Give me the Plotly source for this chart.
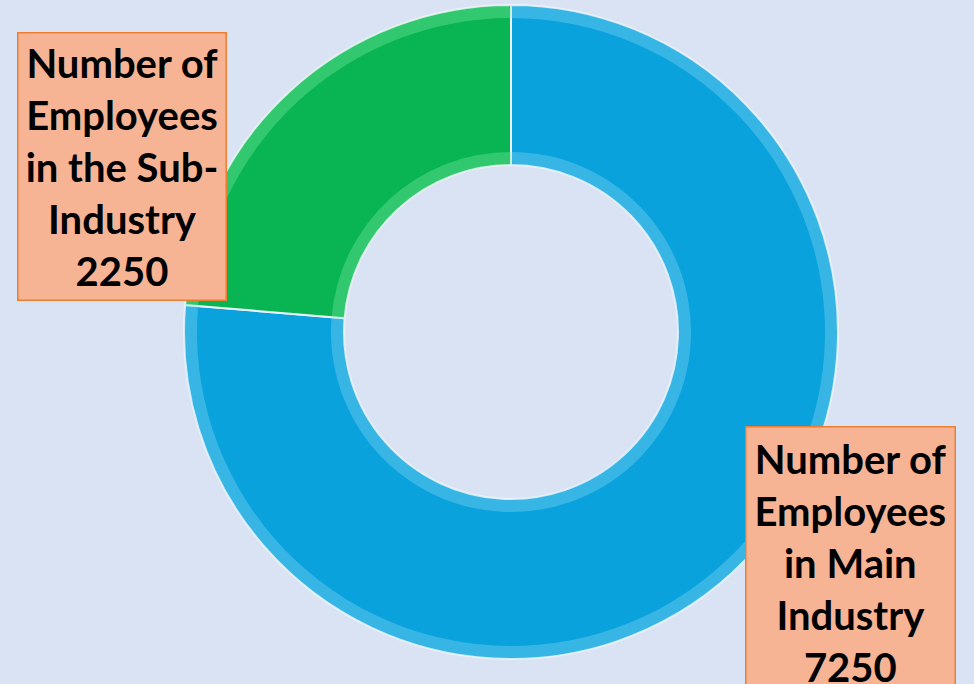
import plotly.graph_objects as go

categories = ["Number of Employees in Main Industry", "Number of Employees in the Sub-Industry"]
values = [7250, 2250]
colors = ["#0AA2DC", "#08B552"]
bevel_colors = ["rgba(140,220,248,0.35)", "rgba(130,235,170,0.35)"]
box_texts = ["Number of<br>Employees<br>in Main<br>Industry<br>7250",
             "Number of<br>Employees<br>in the Sub-<br>Industry<br>2250"]

W, H = 974, 684
cx, cy, r, r_in = 511, 332, 327, 167


def dom(rad):
    return dict(x=[(cx - rad) / W, (cx + rad) / W], y=[1 - (cy + rad) / H, 1 - (cy - rad) / H])


fig = go.Figure()
fig.add_trace(go.Pie(
    labels=categories, values=values, hole=r_in / r, sort=False,
    direction="clockwise", rotation=0,
    marker=dict(colors=colors, line=dict(color="#EEF2F8", width=2)),
    textinfo="none", hoverinfo="label+value", showlegend=False, domain=dom(r),
))
# outer bevel highlight
fig.add_trace(go.Pie(
    labels=categories, values=values, hole=(r - 13) / r, sort=False,
    direction="clockwise", rotation=0,
    marker=dict(colors=bevel_colors, line=dict(width=0)),
    textinfo="none", hoverinfo="skip", showlegend=False, domain=dom(r),
))
# inner bevel highlight
fig.add_trace(go.Pie(
    labels=categories, values=values, hole=r_in / (r_in + 13), sort=False,
    direction="clockwise", rotation=0,
    marker=dict(colors=bevel_colors, line=dict(width=0)),
    textinfo="none", hoverinfo="skip", showlegend=False, domain=dom(r_in + 13),
))

boxes = [(850, 562.5, 208, 271), (121.5, 166, 207, 266)]
for t, (bx, by, bw, bh) in zip(box_texts, boxes):
    fig.add_annotation(
        x=bx / W, y=1 - by / H, xref="paper", yref="paper",
        xanchor="center", yanchor="middle", showarrow=False,
        text=t, width=bw, height=bh, align="center", valign="middle",
        font=dict(family="Lato", size=40, color="#000000", weight="bold"),
        bgcolor="#F7B495", bordercolor="#ED7D31", borderwidth=1.5, borderpad=0,
    )

fig.update_layout(
    width=W, height=H, margin=dict(l=0, r=0, t=0, b=0),
    paper_bgcolor="#DAE3F3", plot_bgcolor="#DAE3F3",
)
fig.write_html("out.html", config={"displayModeBar": False},
               post_script="document.body.style.margin='0';document.body.style.overflow='hidden';")
